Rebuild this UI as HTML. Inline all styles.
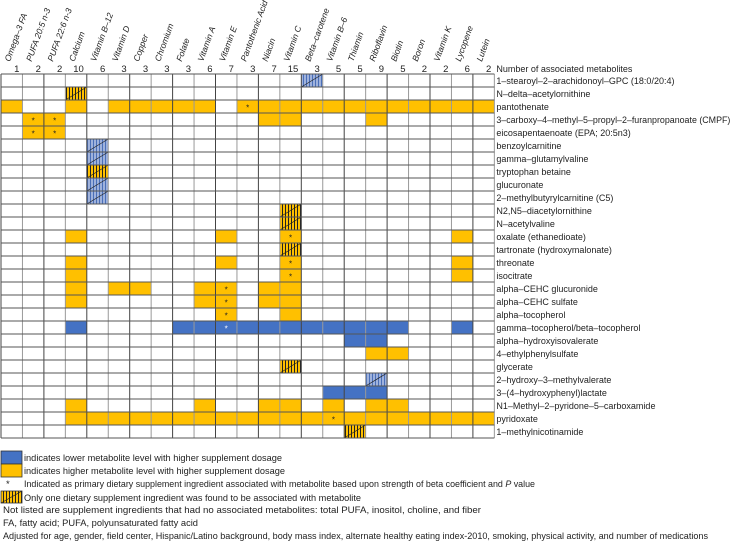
<!DOCTYPE html>
<html><head><meta charset="utf-8"><style>
html,body{margin:0;padding:0;background:#fff;}
svg{display:block;font-family:"Liberation Sans",sans-serif;}
</style></head><body>
<svg id="chart" width="740" height="544" viewBox="0 0 740 544" xmlns="http://www.w3.org/2000/svg">
<defs>
<pattern id="hatchY" width="3" height="6" patternUnits="userSpaceOnUse"><rect width="3" height="6" fill="#FFC000"/><rect width="1" height="6" fill="#222"/></pattern>
<pattern id="hatchB" width="3" height="6" patternUnits="userSpaceOnUse"><rect width="3" height="6" fill="#9fb2dc"/><rect width="1" height="6" fill="#4a6fb8"/></pattern>
</defs>
<g id="cells"></g><g id="grid"></g><g id="labels"></g>
<g font-size="9.5" fill="#222">
<rect x="1" y="451" width="21" height="13" fill="#4472C4" stroke="#333" stroke-width="0.8"/>
<text x="24" y="461" textLength="258" lengthAdjust="spacingAndGlyphs">indicates lower metabolite level with higher supplement dosage</text>
<rect x="1" y="464" width="21" height="13" fill="#FFC000" stroke="#333" stroke-width="0.8"/>
<text x="24" y="474" textLength="261" lengthAdjust="spacingAndGlyphs">indicates higher metabolite level with higher supplement dosage</text>
<text x="6" y="487">*</text>
<text x="24" y="487" textLength="511" lengthAdjust="spacingAndGlyphs">Indicated as primary dietary supplement ingredient associated with metabolite based upon strength of beta coefficient and <tspan font-style="italic">P</tspan> value</text>
<rect x="1" y="491" width="21" height="12" fill="url(#hatchY)" stroke="#333" stroke-width="0.8"/>
<line x1="1" y1="503" x2="22" y2="491" stroke="#222" stroke-width="0.7"/>
<text x="24" y="501" textLength="337" lengthAdjust="spacingAndGlyphs">Only one dietary supplement ingredient was found to be associated with metabolite</text>
<text x="3" y="513" textLength="478" lengthAdjust="spacingAndGlyphs">Not listed are supplement ingredients that had no associated metabolites: total PUFA, inositol, choline, and fiber</text>
<text x="3" y="526" textLength="195" lengthAdjust="spacingAndGlyphs">FA, fatty acid; PUFA, polyunsaturated fatty acid</text>
<text x="3" y="539" textLength="705" lengthAdjust="spacingAndGlyphs">Adjusted for age, gender, field center, Hispanic/Latino background, body mass index, alternate healthy eating index-2010, smoking, physical activity, and number of medications</text>
</g>
</svg>
<script>
const supplements=["Omega\u20133 FA","PUFA 20:5 n-3","PUFA 22:6 n-3","Calcium","Vitamin B\u201312","Vitamin D","Copper","Chromium","Folate","Vitamin A","Vitamin E","Pantothenic Acid","Niacin","Vitamin C","Beta\u2013carotene","Vitamin B\u20136","Thiamin","Riboflavin","Biotin","Boron","Vitamin K","Lycopene","Lutein"];
const counts=[1,2,2,10,6,3,3,3,3,6,7,3,7,15,3,5,5,9,5,2,2,6,2];
const metabolites=["1\u2013stearoyl\u20132\u2013arachidonoyl\u2013GPC (18:0/20:4)","N\u2013delta\u2013acetylornithine","pantothenate","3\u2013carboxy\u20134\u2013methyl\u20135\u2013propyl\u20132\u2013furanpropanoate (CMPF)","eicosapentaenoate (EPA; 20:5n3)","benzoylcarnitine","gamma\u2013glutamylvaline","tryptophan betaine","glucuronate","2\u2013methylbutyrylcarnitine (C5)","N2,N5\u2013diacetylornithine","N\u2013acetylvaline","oxalate (ethanedioate)","tartronate (hydroxymalonate)","threonate","isocitrate","alpha\u2013CEHC glucuronide","alpha\u2013CEHC sulfate","alpha\u2013tocopherol","gamma\u2013tocopherol/beta\u2013tocopherol","alpha\u2013hydroxyisovalerate","4\u2013ethylphenylsulfate","glycerate","2\u2013hydroxy\u20133\u2013methylvalerate","3\u2013(4\u2013hydroxyphenyl)lactate","N1\u2013Methyl\u20132\u2013pyridone\u20135\u2013carboxamide","pyridoxate","1\u2013methylnicotinamide"];
// cells: [row, col, direction(1 higher,-1 lower), star, single]
const cellData=[
[0,14,-1,0,1],[1,3,1,0,1],
[2,0,1,0,0],[2,3,1,0,0],[2,5,1,0,0],[2,6,1,0,0],[2,7,1,0,0],[2,8,1,0,0],[2,9,1,0,0],[2,11,1,1,0],[2,12,1,0,0],[2,13,1,0,0],[2,14,1,0,0],[2,15,1,0,0],[2,16,1,0,0],[2,17,1,0,0],[2,18,1,0,0],[2,19,1,0,0],[2,20,1,0,0],[2,21,1,0,0],[2,22,1,0,0],
[3,1,1,1,0],[3,2,1,1,0],[3,12,1,0,0],[3,13,1,0,0],[3,17,1,0,0],
[4,1,1,1,0],[4,2,1,1,0],
[5,4,-1,0,1],[6,4,-1,0,1],[7,4,1,0,1],[8,4,-1,0,1],[9,4,-1,0,1],
[10,13,1,0,1],[11,13,1,0,1],
[12,3,1,0,0],[12,10,1,0,0],[12,13,1,1,0],[12,21,1,0,0],
[13,13,1,0,1],
[14,3,1,0,0],[14,10,1,0,0],[14,13,1,1,0],[14,21,1,0,0],
[15,3,1,0,0],[15,13,1,1,0],[15,21,1,0,0],
[16,3,1,0,0],[16,5,1,0,0],[16,6,1,0,0],[16,9,1,0,0],[16,10,1,1,0],[16,12,1,0,0],[16,13,1,0,0],
[17,3,1,0,0],[17,9,1,0,0],[17,10,1,1,0],[17,12,1,0,0],[17,13,1,0,0],
[18,10,1,1,0],[18,13,1,0,0],
[19,3,-1,0,0],[19,8,-1,0,0],[19,9,-1,0,0],[19,10,-1,1,0],[19,11,-1,0,0],[19,12,-1,0,0],[19,13,-1,0,0],[19,14,-1,0,0],[19,15,-1,0,0],[19,16,-1,0,0],[19,17,-1,0,0],[19,18,-1,0,0],[19,21,-1,0,0],
[20,16,-1,0,0],[20,17,-1,0,0],
[21,17,1,0,0],[21,18,1,0,0],
[22,13,1,0,1],[23,17,-1,0,1],
[24,15,-1,0,0],[24,16,-1,0,0],[24,17,-1,0,0],
[25,3,1,0,0],[25,9,1,0,0],[25,12,1,0,0],[25,13,1,0,0],[25,15,1,0,0],[25,17,1,0,0],[25,18,1,0,0],
[26,3,1,0,0],[26,4,1,0,0],[26,5,1,0,0],[26,6,1,0,0],[26,7,1,0,0],[26,8,1,0,0],[26,9,1,0,0],[26,10,1,0,0],[26,11,1,0,0],[26,12,1,0,0],[26,13,1,0,0],[26,14,1,0,0],[26,15,1,1,0],[26,16,1,0,0],[26,17,1,0,0],[26,18,1,0,0],[26,19,1,0,0],[26,20,1,0,0],[26,21,1,0,0],[26,22,1,0,0],
[27,16,1,0,1]
];
const NS="http://www.w3.org/2000/svg";
const X0=1,CW=21.45,Y0=74,RH=13;
const xCol=c=>X0+c*CW, yRow=r=>Y0+r*RH;
const nC=supplements.length,nR=metabolites.length;
function mk(t,a,p){const e=document.createElementNS(NS,t);for(const k in a)e.setAttribute(k,a[k]);p.appendChild(e);return e;}
const gc=document.getElementById('cells'),gg=document.getElementById('grid'),gl=document.getElementById('labels');
cellData.forEach(d=>{
 const [r,c,dir,star,single]=d;
 const fill=single?(dir>0?'url(#hatchY)':'url(#hatchB)'):(dir>0?'#FFC000':'#4472C4');
 const rc=mk('rect',{x:xCol(c),y:yRow(r),width:CW,height:RH,fill:fill},gc);
 
 
 if(single){const ln=mk('line',{x1:xCol(c),y1:yRow(r+1),x2:xCol(c+1),y2:yRow(r),stroke:'#222','stroke-width':0.7},gc);
  
  }
 if(star){const s=mk('text',{x:xCol(c)+CW/2,y:yRow(r)+RH/2+4,'text-anchor':'middle','font-size':8,fill:dir>0?'#222':'#fff'},gc);s.textContent='*';
  
  }
});
for(let c=0;c<=nC;c++){const l=mk('line',{x1:xCol(c),y1:Y0,x2:xCol(c),y2:yRow(nR),stroke:c%2?'#999':'#444','stroke-width':1},gg);
 
 }
for(let r=0;r<=nR;r++){const l=mk('line',{x1:X0,y1:yRow(r),x2:xCol(nC),y2:yRow(r),stroke:'#555','stroke-width':1},gg);
 
 }
supplements.forEach((s,c)=>{
 const x=xCol(c)+9,y=62;
 const t=mk('text',{x:x,y:y,'font-size':8.6,'font-style':'italic',fill:'#222',transform:'rotate(-70 '+x+' '+y+')'},gl);t.textContent=s;
 
 
 const n=mk('text',{x:xCol(c+1)-3,y:72,'font-size':9.5,'text-anchor':'end',fill:'#222'},gl);n.textContent=counts[c];
 
 
});
const nt=mk('text',{x:xCol(nC)+2,y:72,'font-size':9,fill:'#222'},gl);nt.textContent='Number of associated metabolites';


metabolites.forEach((m,r)=>{
 const a={x:xCol(nC)+2,y:yRow(r)+10,'font-size':9,fill:'#222'};
 if(m.length>45){a.textLength=234;a.lengthAdjust='spacingAndGlyphs';}
 const t=mk('text',a,gl);t.textContent=m;
 
 
});
</script>
</body></html>
